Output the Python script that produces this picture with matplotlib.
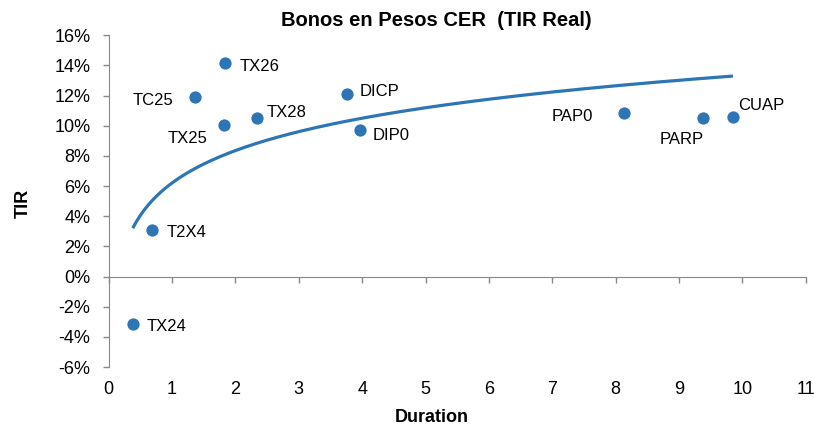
import numpy as np
import matplotlib
matplotlib.use("Agg")
import matplotlib.pyplot as plt
from matplotlib.ticker import FuncFormatter

plt.rcParams['font.family'] = ['Liberation Sans', 'DejaVu Sans']

bonds = ["TX24", "T2X4", "TC25", "TX26", "TX25", "TX28", "DICP", "DIP0", "PAP0", "PARP", "CUAP"]
duration = [0.38, 0.69, 1.36, 1.83, 1.82, 2.34, 3.76, 3.96, 8.13, 9.38, 9.85]
tir = [-3.15, 3.08, 11.89, 14.13, 10.04, 10.52, 12.11, 9.73, 10.83, 10.52, 10.57]
xticks = list(range(0, 12))
yticks = list(range(-6, 17, 2))

# label placement (offset pixels, alignment)
label_pos = {
    "TX24": (14, -2, "left"),
    "T2X4": (14, -2.5, "left"),
    "TC25": (-21, -3.5, "right"),
    "TX26": (14.5, -3.5, "left"),
    "TX25": (-17, -13.5, "right"),
    "TX28": (9.5, 5, "left"),
    "DICP": (12.5, 2, "left"),
    "DIP0": (12.5, -5.5, "left"),
    "PAP0": (-31, -3.5, "right"),
    "PARP": (0.5, -22, "right"),
    "CUAP": (5.5, 12, "left"),
}

color = "#2E75B6"
fig = plt.figure(figsize=(8.14, 4.29), dpi=100)
ax = fig.add_axes([0.1335, 0.1445, 0.8565, 0.7735])

ax.scatter(duration, tir, s=78, color=color, zorder=3, linewidths=0)

# logarithmic trendline fitted on the data
x = np.array(duration)
b, a = np.polyfit(np.log(x), np.array(tir), 1)
xs = np.linspace(x.min(), x.max(), 300)
ax.plot(xs, a + b * np.log(xs), color=color, lw=2.3, zorder=2, solid_capstyle='butt')

for name, xv, yv in zip(bonds, duration, tir):
    dx, dy, ha = label_pos[name]
    ax.annotate(name, (xv, yv), xytext=(dx, dy), textcoords='offset pixels',
                ha=ha, va='center', fontsize=12, color='black')

ax.set_xlim(0, 11)
ax.set_ylim(-6, 16)
ax.set_yticks(yticks)
ax.yaxis.set_major_formatter(FuncFormatter(lambda v, p: f"{int(round(v))}%"))
ax.tick_params(axis='y', length=4, width=1, color='#888888', labelsize=13, pad=9)

ax.spines['top'].set_visible(False)
ax.spines['right'].set_visible(False)
ax.spines['left'].set_color('#888888')
ax.spines['bottom'].set_color('#888888')
ax.spines['bottom'].set_position(('data', 0))
ax.set_xticks(xticks)
ax.tick_params(axis='x', length=4, width=1, color='#888888', direction='out', labelbottom=False)

sec = ax.secondary_xaxis(0)
sec.set_xticks(xticks)
sec.tick_params(length=0, labelsize=13, pad=10)
sec.spines['bottom'].set_visible(False)

fig.text(436.5 / 814, 1 - 21 / 429, "Bonos en Pesos CER  (TIR Real)", ha='center', va='center',
         fontsize=14.5, fontweight='bold')
fig.text(432 / 814, 1 - 417 / 429, "Duration", ha='center', va='center', fontsize=13, fontweight='bold')
fig.text(23 / 814, 1 - 203 / 429, "TIR", ha='center', va='center', rotation=90, fontsize=13,
         fontweight='bold')

fig.savefig("out.png", dpi=100)
